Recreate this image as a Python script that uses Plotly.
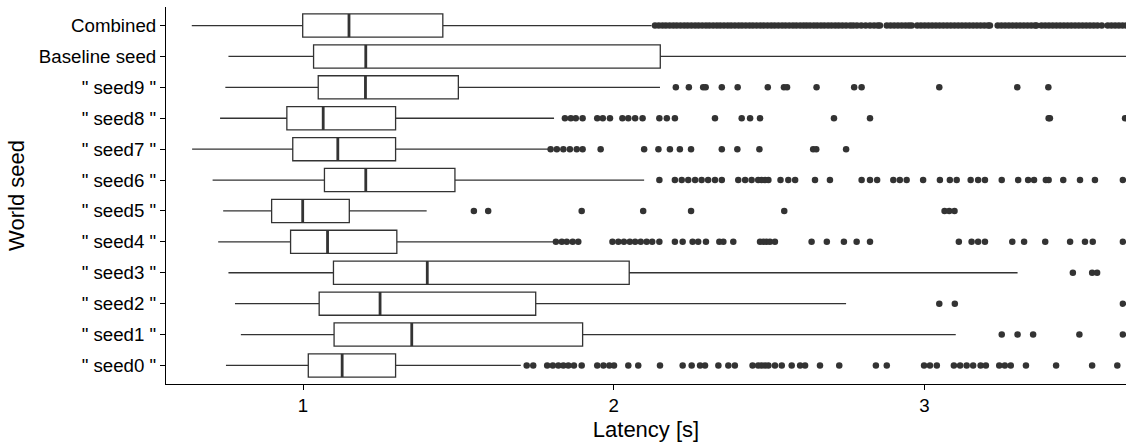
import plotly.graph_objects as go

# Categories (bottom to top)
labels = ['" seed0 "', '" seed1 "', '" seed2 "', '" seed3 "', '" seed4 "', '" seed5 "',
          '" seed6 "', '" seed7 "', '" seed8 "', '" seed9 "', 'Baseline seed', 'Combined']

# Box statistics (latency in seconds), same order as labels
lower_fence = [0.752, 0.800, 0.781, 0.760, 0.727, 0.743, 0.709, 0.643, 0.733, 0.750, 0.760, 0.642]
q1_vals     = [1.017, 1.100, 1.052, 1.098, 0.960, 0.899, 1.069, 0.967, 0.948, 1.049, 1.034, 0.999]
median_vals = [1.126, 1.350, 1.248, 1.400, 1.079, 0.999, 1.202, 1.112, 1.065, 1.201, 1.202, 1.148]
q3_vals     = [1.298, 1.900, 1.749, 2.050, 1.302, 1.149, 1.489, 1.298, 1.298, 1.500, 2.150, 1.450]
upper_fence = [1.701, 3.101, 2.748, 3.300, 1.806, 1.398, 2.098, 1.790, 1.808, 2.149, 3.900, 2.122]

# Outliers per category
out_seed0 = [1.720, 1.741, 1.786, 1.804, 1.822, 1.838, 1.854, 1.872, 1.897, 1.947, 1.967, 1.986,
             2.001, 2.047, 2.079, 2.149, 2.222, 2.251, 2.278, 2.294, 2.337, 2.369, 2.390, 2.447,
             2.465, 2.487, 2.476, 2.498, 2.519, 2.541, 2.573, 2.600, 2.616, 2.664, 2.726, 2.844,
             2.879, 2.999, 3.018, 3.040, 3.095, 3.115, 3.136, 3.157, 3.181, 3.198, 3.241, 3.259,
             3.278, 3.327, 3.424, 3.540, 3.621]
out_seed1 = [3.249, 3.300, 3.350, 3.499, 3.639]
out_seed2 = [3.048, 3.098, 3.639]
out_seed3 = [3.478, 3.540, 3.556]
out_seed4 = [1.814, 1.833, 1.849, 1.868, 1.886, 1.996, 2.015, 2.033, 2.052, 2.069, 2.087, 2.106,
             2.124, 2.147, 2.197, 2.222, 2.254, 2.272, 2.297, 2.340, 2.353, 2.385, 2.471, 2.492,
             2.482, 2.503, 2.519, 2.637, 2.686, 2.741, 2.782, 2.825, 3.111, 3.152, 3.173, 3.195,
             3.283, 3.321, 3.389, 3.469, 3.517, 3.542, 3.639]
out_seed5 = [1.550, 1.596, 1.897, 2.095, 2.249, 2.549, 3.065, 3.080, 3.097]
out_seed6 = [2.147, 2.197, 2.219, 2.240, 2.262, 2.283, 2.304, 2.326, 2.348, 2.401, 2.423, 2.444,
             2.465, 2.487, 2.476, 2.498, 2.537, 2.562, 2.584, 2.648, 2.696, 2.798, 2.825, 2.848,
             2.900, 2.921, 2.943, 2.996, 3.050, 3.082, 3.104, 3.149, 3.173, 3.195, 3.249, 3.302,
             3.334, 3.353, 3.391, 3.400, 3.447, 3.501, 3.549, 3.639]
out_seed7 = [1.797, 1.817, 1.838, 1.859, 1.881, 1.900, 1.958, 2.098, 2.144, 2.181, 2.213, 2.249,
             2.348, 2.398, 2.469, 2.642, 2.652, 2.748]
out_seed8 = [1.843, 1.862, 1.878, 1.900, 1.947, 1.965, 1.988, 2.028, 2.047, 2.069, 2.093, 2.147,
             2.171, 2.197, 2.326, 2.412, 2.439, 2.471, 2.709, 2.825, 3.400, 3.404, 3.646]
out_seed9 = [2.200, 2.242, 2.288, 2.296, 2.348, 2.399, 2.496, 2.548, 2.558, 2.653, 2.774, 2.798,
             3.048, 3.299, 3.399]
out_baseline = []
out_combined = [2.133, 2.145, 2.157, 2.168, 2.180, 2.192, 2.203, 2.215, 2.227, 2.238, 2.250, 2.262,
                2.273, 2.285, 2.297, 2.308, 2.320, 2.332, 2.343, 2.355, 2.367, 2.378, 2.390, 2.402,
                2.413, 2.425, 2.437, 2.448, 2.460, 2.472, 2.483, 2.495, 2.507, 2.518, 2.530, 2.542,
                2.553, 2.565, 2.577, 2.588, 2.600, 2.611, 2.621,
                2.632, 2.644, 2.655, 2.667, 2.678, 2.690, 2.701, 2.713, 2.724, 2.736, 2.748, 2.761,
                2.771, 2.783, 2.797, 2.811, 2.825, 2.838, 2.850, 2.857,
                2.879, 2.891, 2.903, 2.915, 2.927, 2.939, 2.950, 2.959,
                2.977, 2.989, 3.001, 3.013, 3.025, 3.037, 3.049, 3.061, 3.073, 3.085, 3.097, 3.109,
                3.121, 3.133, 3.145, 3.157, 3.169, 3.181, 3.193, 3.205, 3.211,
                3.236, 3.248, 3.260, 3.272, 3.284, 3.296, 3.308, 3.320, 3.332, 3.344, 3.356, 3.361,
                3.377, 3.389, 3.401, 3.413, 3.425, 3.437, 3.449, 3.461, 3.473, 3.485, 3.497, 3.509,
                3.521, 3.533, 3.545, 3.557, 3.571,
                3.590, 3.602, 3.614, 3.626, 3.638, 3.650]

outliers = [out_seed0, out_seed1, out_seed2, out_seed3, out_seed4, out_seed5, out_seed6,
            out_seed7, out_seed8, out_seed9, out_baseline, out_combined]

x_ticks = [1, 2, 3]
x_title = "Latency [s]"
y_title = "World seed"

INK = "#333333"
BOX_W = 0.75
positions = list(range(len(labels)))

fig = go.Figure()

fig.add_trace(go.Box(
    y=positions, q1=q1_vals, median=median_vals, q3=q3_vals,
    lowerfence=lower_fence, upperfence=upper_fence,
    orientation="h", width=BOX_W, whiskerwidth=0, boxpoints=False,
    fillcolor="white", line=dict(color=INK, width=1.3), showlegend=False,
    hoverinfo="skip",
))

# thicker median lines (ggplot style)
mx, my = [], []
for i, m in enumerate(median_vals):
    mx += [m, m, None]
    my += [i - BOX_W / 2, i + BOX_W / 2, None]
fig.add_trace(go.Scatter(x=mx, y=my, mode="lines", line=dict(color=INK, width=2.8),
                         showlegend=False, hoverinfo="skip"))

ox, oy = [], []
for i, vals in enumerate(outliers):
    ox += vals
    oy += [i] * len(vals)
fig.add_trace(go.Scatter(x=ox, y=oy, mode="markers",
                         marker=dict(color=INK, size=6.5, line=dict(width=0)),
                         showlegend=False, cliponaxis=True))

font_family = "Liberation Sans, Arial, sans-serif"
fig.update_layout(
    width=1126, height=442,
    margin=dict(l=166, r=0, t=7, b=58),
    paper_bgcolor="white", plot_bgcolor="white",
    font=dict(family=font_family, color="black"),
    showlegend=False,
)
fig.update_xaxes(
    range=[0.559, 3.649], tickvals=x_ticks, ticktext=[str(t) for t in x_ticks],
    showline=True, linecolor="black", linewidth=1.1, mirror=False,
    ticks="outside", ticklen=5, tickcolor="black", tickwidth=1.1,
    showgrid=False, zeroline=False,
    tickfont=dict(size=18.7, color="black"),
    title=dict(text=x_title, font=dict(size=22, color="black"), standoff=10),
)
fig.update_yaxes(
    range=[-0.6, 11.6], tickvals=positions, ticktext=labels,
    showline=True, linecolor="black", linewidth=1.1,
    ticks="outside", ticklen=5, tickcolor="black", tickwidth=1.1,
    showgrid=False, zeroline=False,
    tickfont=dict(size=18.7, color="black"),
    title=dict(text=y_title, font=dict(size=22, color="black"), standoff=8),
)

fig.write_html("out.html")
